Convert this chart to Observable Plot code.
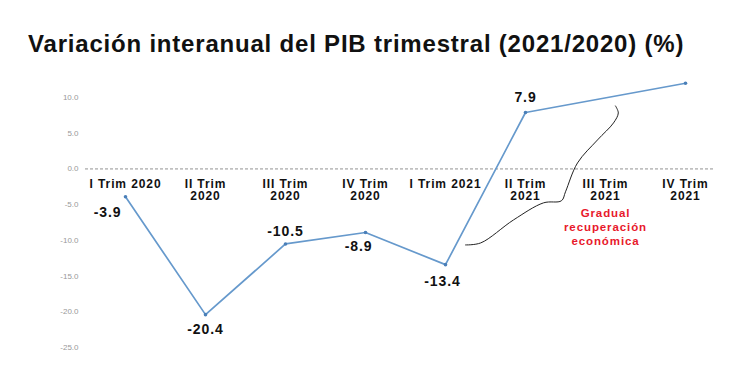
<!DOCTYPE html>
<html><head><meta charset="utf-8">
<script src="https://cdn.jsdelivr.net/npm/d3@7"></script>
<script src="https://cdn.jsdelivr.net/npm/@observablehq/plot@0.6"></script>
<style>
body{margin:0;background:#fff;font-family:"Liberation Sans",Arial,sans-serif;}
#title{height:70px;box-sizing:border-box;padding:31px 0 0 28px;font-size:24px;font-weight:bold;color:#111;line-height:26px;white-space:nowrap;letter-spacing:0.8px;}
svg{display:block}
#chart g[aria-label="text"]{letter-spacing:0.9px;}
</style></head><body>
<div id="title">Variación interanual del PIB trimestral (2021/2020) (%)</div>
<div id="chart"></div>
<script>
const quarters = ["I Trim 2020","II Trim\n2020","III Trim\n2020","IV Trim\n2020","I Trim 2021","II Trim\n2021","III Trim\n2021","IV Trim\n2021"];
const values = [-3.9, -20.4, -10.5, -8.9, -13.4, 7.9, null, 12.0];
const valueLabels = ["-3.9","-20.4","-10.5","-8.9","-13.4","7.9","",""];
const yTicks = [10, 5, 0, -5, -10, -15, -20, -25];
const noteText = "Gradual\nrecuperación\neconómica";
// brace annotation path in data coordinates (quarter index, %)
const braceX = [4.25, 4.44, 4.85, 5.225, 5.45, 5.5, 5.65, 5.9, 6.1, 6.16, 6.125];
const braceY = [-10.64, -10.36, -7.14, -4.75, -4.45, -3.2, 0.84, 4.06, 6.44, 7.84, 8.82];

const data = quarters.map((q, i) => ({i, q, v: values[i], label: valueLabels[i]}));
const defined = data.filter(d => d.v != null);
const brace = braceX.map((x, k) => ({x, y: braceY[k]}));
// label offsets (style)
const off = [[-18,16],[0,15],[0,-12],[-7,14],[-3,17],[0,-15],[0,0],[0,0]];

const chart = Plot.plot({
  width: 750, height: 319,
  marginLeft: 82, marginRight: 20, marginTop: 10, marginBottom: 10,
  x: {domain: [0, 7], range: [125, 685], axis: null},
  y: {domain: [-25, 10], range: [277, 27], label: null},
  style: {fontFamily: "Liberation Sans, Arial, sans-serif"},
  marks: [
    Plot.axisY({ticks: yTicks, tickFormat: d => d.toFixed(1), tickSize: 0, tickPadding: 4, label: null, fontSize: 8, fill: "#999"}),
    Plot.ruleY([0], {x1: -0.5, x2: 7.375, stroke: "#777", strokeDasharray: "3,2", strokeWidth: 0.8}),
    Plot.line(defined, {x: "i", y: "v", stroke: "#6699cc", strokeWidth: 1.7}),
    Plot.dot(defined, {x: "i", y: "v", r: 1.8, fill: "#4a7fb8"}),
    Plot.text(data, {x: "i", y: () => 0, text: "q", dy: 10, lineAnchor: "top", fontSize: 12, fontWeight: "bold", fill: "#111", lineHeight: 1.05}),
    ...data.filter(d => d.label).map(d => Plot.text([d], {x: "i", y: "v", text: "label", dx: off[d.i][0], dy: off[d.i][1], fontSize: 14, fontWeight: "bold", fill: "#111"})),
    Plot.line(brace, {x: "x", y: "y", curve: "catmull-rom", stroke: "#222", strokeWidth: 1}),
    Plot.text([noteText], {x: 6.0, y: -5.4, text: d => d, lineAnchor: "top", fontSize: 11.5, fontWeight: "bold", fill: "#e8192c", lineHeight: 1.2})
  ]
});
document.getElementById("chart").appendChild(chart);
</script>
</body></html>
